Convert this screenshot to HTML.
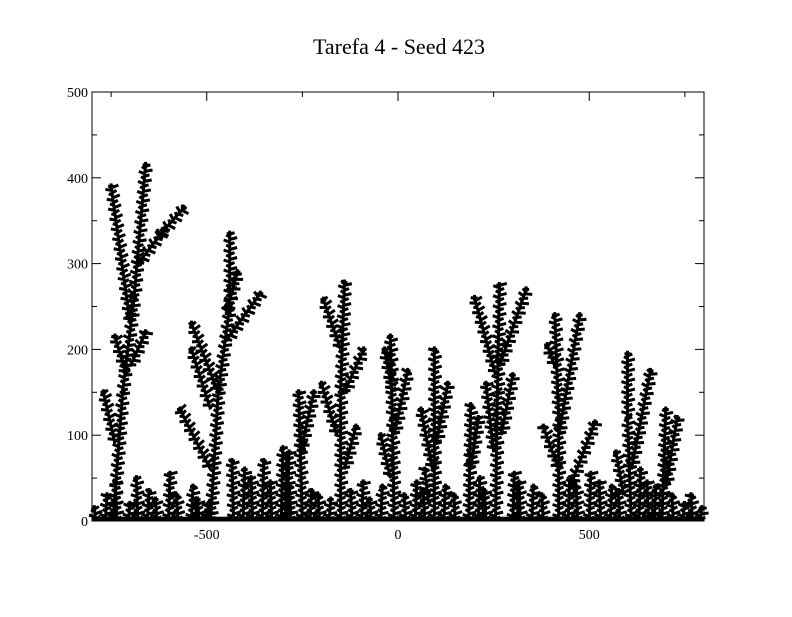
<!DOCTYPE html>
<html><head><meta charset="utf-8"><style>
body{margin:0;background:#fff}
svg text{font-family:"Liberation Serif",serif;fill:#000}
</style></head><body>
<svg id="chart" width="792" height="612" viewBox="0 0 792 612">
<rect width="792" height="612" fill="#fff"/>
<text x="399" y="54" text-anchor="middle" font-size="22">Tarefa 4 - Seed 423</text>
<g id="marks"></g>
<rect x="92" y="92" width="612" height="429" fill="none" stroke="#000" stroke-width="1"/>
<g id="axes"></g>
</svg>
<script>
const xTicks=[-500,0,500];
const xMinor=[-750,-250,250,750];
const yTicks=[0,100,200,300,400,500];
const yMinor=[50,150,250,350,450];
// branches: [x0,y0,x1,y1] in data units
const branches=[
[-745,0,-720,150],[-720,150,-690,260],[-690,260,-660,415],[-700,230,-750,390],[-680,300,-610,340],[-630,330,-560,365],[-740,90,-770,150],[-710,170,-740,215],[-700,180,-660,220],
[-490,0,-470,150],[-470,150,-440,250],[-440,250,-440,335],[-470,150,-540,230],[-450,210,-360,265],[-490,60,-570,130],[-490,130,-540,200],[-450,240,-420,290],
[-250,0,-260,150],[-255,80,-220,150],[-290,0,-285,80],
[-150,0,-150,150],[-150,150,-140,278],[-150,200,-195,258],[-140,150,-90,200],[-160,100,-200,160],[-140,60,-110,110],
[-10,0,-15,120],[-15,120,-20,215],[-10,100,25,175],[-15,150,-35,200],[-20,50,-45,100],
[95,0,95,100],[95,100,95,200],[90,60,60,130],[100,90,130,160],[80,20,70,60],
[185,0,190,135],[190,60,210,120],
[255,0,260,150],[260,150,265,275],[255,170,200,260],[265,180,335,270],[250,80,230,160],[270,100,300,170],
[420,0,420,120],[420,120,410,240],[420,100,475,240],[420,60,380,110],[450,40,515,115],[410,180,390,205],
[610,0,600,120],[600,120,600,195],[610,60,660,175],[590,30,570,80],
[690,0,700,130],[700,40,730,120]
];
// small bushes along the substrate: x, height
const bushX=[-790,-765,-735,-705,-680,-655,-630,-600,-575,-540,-520,-500,-430,-405,-380,-355,-330,-305,-280,-230,-205,-180,-120,-95,-70,-45,20,45,70,120,150,210,230,300,320,350,380,445,470,500,530,555,580,630,655,670,720,745,770,790];
const bushH=[15,30,45,20,50,35,25,55,30,40,25,20,70,60,50,70,45,85,40,35,30,25,35,45,25,40,30,45,35,40,30,50,35,55,45,40,30,50,40,55,45,40,35,60,45,40,30,20,30,15];
const X0=-800,X1=800,Y0=0,Y1=500,PL=92,PR=704,PT=92,PB=521;
const sx=v=>PL+(v-X0)/(X1-X0)*(PR-PL);
const sy=v=>PB-(v-Y0)/(Y1-Y0)*(PB-PT);
const NS="http://www.w3.org/2000/svg";
const marks=document.getElementById('marks');
function drawBranch(a,b,c,d,name){
 const x0=sx(a),y0=sy(b),x1=sx(c),y1=sy(d);
 const L=Math.hypot(x1-x0,y1-y0)||1,ux=(x1-x0)/L,uy=(y1-y0)/L;
 let p="M"+x0+","+y0+"L"+x1+","+y1;
 let i=0;
 for(let t=2;t<L;t+=2.5){i++;
  const s=(i%2?1:-1),len=3.5+(i%4)*1.3;
  const cx=x0+ux*t,cy=y0+uy*t;
  p+="M"+cx+","+cy+"l"+(-uy*s*len+ux*2)+","+(ux*s*len+uy*2);
 }
 p+="M"+(x1-3)+","+(y1)+"l6,0M"+x1+","+(y1-3)+"l0,6";
 const e=document.createElementNS(NS,'path');
 e.setAttribute('d',p);e.setAttribute('stroke','#000');e.setAttribute('stroke-width','3');e.setAttribute('fill','none');
 
 
 marks.appendChild(e);
}
branches.forEach(b=>drawBranch(b[0],b[1],b[2],b[3],'cluster-branch'));
bushX.forEach((x,i)=>drawBranch(x,0,x+(i%2?4:-4),bushH[i],'substrate-bush'));
const base=document.createElementNS(NS,'rect');
base.setAttribute('x',PL);base.setAttribute('y',sy(5));base.setAttribute('width',PR-PL);base.setAttribute('height',PB-sy(5));


marks.appendChild(base);
const axes=document.getElementById('axes');
function line(x1,y1,x2,y2,name){const l=document.createElementNS(NS,'line');
 l.setAttribute('x1',x1);l.setAttribute('y1',y1);l.setAttribute('x2',x2);l.setAttribute('y2',y2);l.setAttribute('stroke','#000');
 
 
 axes.appendChild(l);}
function text(x,y,s,anchor,name){const t=document.createElementNS(NS,'text');
 t.setAttribute('x',x);t.setAttribute('y',y);t.setAttribute('text-anchor',anchor);t.setAttribute('font-size','14');t.textContent=s;
 
 
 axes.appendChild(t);}
xTicks.forEach(v=>{const x=sx(v);line(x,PB,x,PB-9,'x-tick');line(x,PT,x,PT+9,'x-tick-top');text(x,PB+18,String(v),'middle','x-tick-label');});
xMinor.forEach(v=>{const x=sx(v);line(x,PB,x,PB-5,'x-minor-tick');line(x,PT,x,PT+5,'x-minor-tick-top');});
yTicks.forEach(v=>{const y=sy(v);line(PL,y,PL+9,y,'y-tick');line(PR,y,PR-9,y,'y-tick-right');text(PL-4,y+5,String(v),'end','y-tick-label');});
yMinor.forEach(v=>{const y=sy(v);line(PL,y,PL+5,y,'y-minor-tick');line(PR,y,PR-5,y,'y-minor-tick-right');});
</script>
</body></html>
